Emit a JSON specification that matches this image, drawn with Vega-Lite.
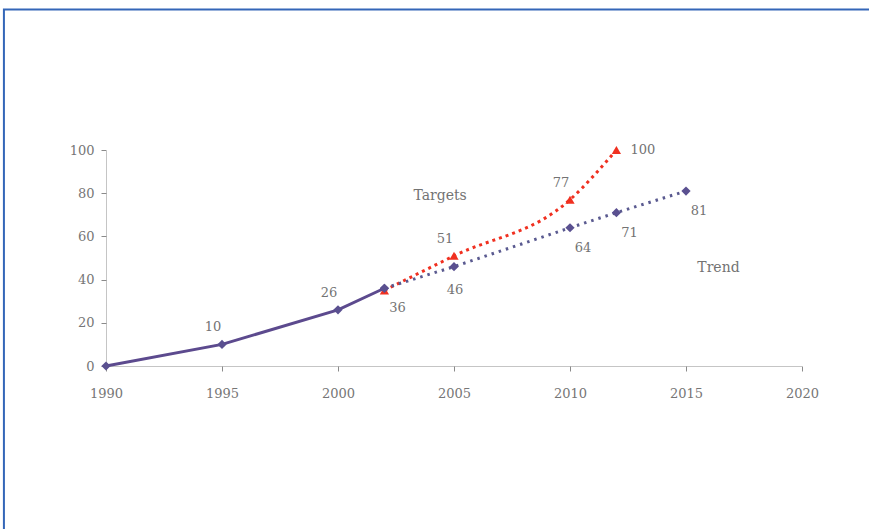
{
  "$schema": "https://vega.github.io/schema/vega-lite/v6.json",
  "autosize": {"type": "none"},
  "width": 696,
  "height": 216,
  "padding": {"left": 106, "top": 150, "right": 67, "bottom": 163},
  "background": "white",
  "config": {
    "view": {"stroke": null},
    "font": "DejaVu Serif",
    "text": {"font": "DejaVu Serif", "fontSize": 13, "color": "#737373"}
  },
  "datasets": {
    "series": [
      {"series": "Actual", "year": 1990, "value": 0},
      {"series": "Actual", "year": 1995, "value": 10},
      {"series": "Actual", "year": 2000, "value": 26},
      {"series": "Actual", "year": 2002, "value": 36},
      {"series": "Trend", "year": 2002, "value": 36},
      {"series": "Trend", "year": 2005, "value": 46},
      {"series": "Trend", "year": 2010, "value": 64},
      {"series": "Trend", "year": 2012, "value": 71},
      {"series": "Trend", "year": 2015, "value": 81},
      {"series": "Targets", "year": 2002, "value": 35},
      {"series": "Targets", "year": 2005, "value": 51},
      {"series": "Targets", "year": 2010, "value": 77},
      {"series": "Targets", "year": 2012, "value": 100}
    ],
    "notes": [
      {"note": "Targets", "year": 2004.4, "value": 78.5},
      {"note": "Trend", "year": 2016.4, "value": 45.6}
    ]
  },
  "layer": [
    {
      "data": {"values": [{"item": "frame"}]},
      "mark": {"type": "rect", "fill": null, "stroke": "#3466b8", "strokeWidth": 2},
      "encoding": {
        "x": {"datum": 1985.6, "type": "quantitative", "scale": {"domain": [1990, 2020], "nice": false, "zero": false}},
        "x2": {"datum": 2030},
        "y": {"datum": 165, "type": "quantitative", "scale": {"domain": [0, 100], "nice": false}},
        "y2": {"datum": -100}
      }
    },
    {
      "data": {"name": "series"},
      "encoding": {
        "x": {
          "field": "year", "type": "quantitative",
          "scale": {"domain": [1990, 2020], "nice": false, "zero": false},
          "axis": {
            "title": null, "values": [1990, 1995, 2000, 2005, 2010, 2015, 2020],
            "format": "d", "grid": false,
            "domainColor": "#8a8a8a", "domainDash": [1, 1], "domainWidth": 1,
            "tickColor": "#8a8a8a", "tickSize": 5, "tickWidth": 1,
            "labelFont": "DejaVu Serif", "labelFontSize": 13, "labelColor": "#767676",
            "labelPadding": 16, "labelFlush": false
          }
        },
        "y": {
          "field": "value", "type": "quantitative",
          "scale": {"domain": [0, 100], "nice": false},
          "axis": {
            "title": null, "values": [0, 20, 40, 60, 80, 100], "grid": false,
            "domainColor": "#8a8a8a", "domainDash": [1, 1], "domainWidth": 1,
            "tickColor": "#8a8a8a", "tickSize": 5, "tickWidth": 1,
            "labelFont": "DejaVu Serif", "labelFontSize": 13, "labelColor": "#767676",
            "labelPadding": 7
          }
        }
      },
      "layer": [
        {
          "transform": [{"filter": "datum.series === 'Targets'"}],
          "mark": {"type": "line", "color": "#f03020", "strokeWidth": 3, "strokeDash": [3, 4], "interpolate": "monotone"}
        },
        {
          "transform": [{"filter": "datum.series === 'Trend'"}],
          "mark": {"type": "line", "color": "#5a5a90", "strokeWidth": 3, "strokeDash": [2.5, 5]}
        },
        {
          "transform": [{"filter": "datum.series === 'Actual'"}],
          "mark": {"type": "line", "color": "#5c4a8e", "strokeWidth": 3}
        },
        {
          "transform": [{"filter": "datum.series === 'Targets'"}],
          "mark": {"type": "point", "shape": "triangle-up", "filled": true, "color": "#f03020", "size": 85, "opacity": 1}
        },
        {
          "transform": [{"filter": "datum.series !== 'Targets'"}],
          "mark": {"type": "point", "shape": "diamond", "filled": true, "color": "#5a5090", "size": 85, "opacity": 1}
        },
        {
          "transform": [{"filter": "(datum.series === 'Actual' && (datum.year === 1995 || datum.year === 2000)) || (datum.series === 'Targets' && (datum.year === 2005 || datum.year === 2010))"}],
          "mark": {"type": "text", "dx": -9, "dy": -17},
          "encoding": {"text": {"field": "value", "type": "quantitative"}}
        },
        {
          "transform": [{"filter": "(datum.series === 'Actual' && datum.year === 2002) || (datum.series === 'Trend' && datum.year >= 2010)"}],
          "mark": {"type": "text", "dx": 13, "dy": 20},
          "encoding": {"text": {"field": "value", "type": "quantitative"}}
        },
        {
          "transform": [{"filter": "datum.series === 'Trend' && datum.year === 2005"}],
          "mark": {"type": "text", "dx": 1, "dy": 23},
          "encoding": {"text": {"field": "value", "type": "quantitative"}}
        },
        {
          "transform": [{"filter": "datum.series === 'Targets' && datum.year === 2012"}],
          "mark": {"type": "text", "dx": 14, "align": "left"},
          "encoding": {"text": {"field": "value", "type": "quantitative"}}
        },
        {
          "data": {"name": "notes"},
          "mark": {"type": "text", "fontSize": 14},
          "encoding": {"text": {"field": "note", "type": "nominal"}}
        }
      ]
    }
  ]
}
